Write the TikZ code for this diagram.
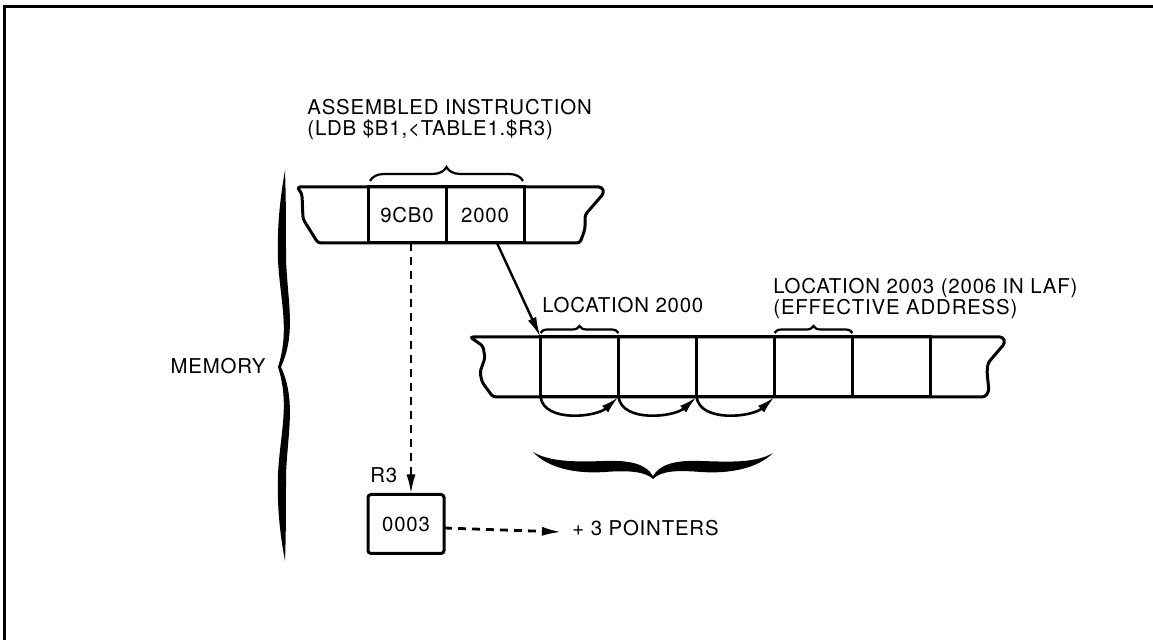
\documentclass[tikz,border=0pt]{standalone}
\usepackage{fontspec}
\setmainfont{TeX Gyre Heros}[LetterSpace=4]
\usetikzlibrary{arrows.meta,positioning,decorations.pathreplacing}

\begin{document}
\begin{tikzpicture}[x=0.5pt, y=-0.5pt,
    lbl/.style={inner sep=0pt, font=\fontsize{10.2}{10.5}\selectfont, align=left},
    cell/.style={draw, line width=1.5pt, minimum width=39pt, minimum height=#1,
                 inner sep=0pt, outer sep=0pt, font=\fontsize{10.2}{10.5}\selectfont},
    cell/.default=28pt,
    strip/.style={line width=1.5pt, line join=round, rounded corners=1.5pt},
    dasharr/.style={line width=1.4pt, dash pattern=on 4pt off 3pt, -{Latex[length=10pt,width=4.5pt]}},
    arr/.style={line width=1.2pt, -{Latex[length=10pt,width=4.5pt]}},
    hop/.style={line width=1.3pt, -{Latex[length=9pt,width=4.5pt]}},
    brc/.style={decorate, decoration={brace, amplitude=#1}, line width=1.1pt}
]
    \useasboundingbox (0,0) rectangle (1153,640);
    % frame
    \draw[line width=1.5pt] (4,640) -- (4,7) -- (1153,7);

    % upper memory strip
    \draw[strip] (297,187) -- (602,187) -- (604,193) -- (585,215) -- (585,229) -- (580,243)
        -- (318,243) -- (303,219) -- (302,194) -- cycle;
    \node[cell] (c9cb0) at (407,215) {9CB0};
    \node[cell, right=0pt of c9cb0] (c2000) {2000};
    \draw[brc=7pt] (370,181) -- (523,181);
    \node[lbl, anchor=north west] (asm) at (307,99) {ASSEMBLED INSTRUCTION\\(LDB \$B1,<TABLE1.\$R3)};

    % lower memory strip
    \draw[strip] (470,337) -- (1003,337) -- (1005,343) -- (988,363) -- (987,372) -- (989,391)
        -- (985,397) -- (493,397) -- (482,382) -- (480,372) -- (485,358) -- (483,346) -- cycle;
    \node[cell=30pt] (m1) at (579.5,367) {};
    \node[cell=30pt, right=0pt of m1] (m2) {};
    \node[cell=30pt, right=0pt of m2] (m3) {};
    \node[cell=30pt, right=0pt of m3] (m4) {};
    \node[cell=30pt, right=0pt of m4] (m5) {};
    \draw[brc=3.5pt] ([yshift=2pt]m1.north west) -- ([yshift=2pt]m1.north east);
    \draw[brc=3.5pt] ([yshift=2pt]m4.north west) -- ([yshift=2pt]m4.north east);
    \node[lbl, anchor=base west] (loc0) at (542,313) {LOCATION 2000};
    \node[lbl, anchor=north west] (loc3) at (773,278) {LOCATION 2003 (2006 IN LAF)\\(EFFECTIVE ADDRESS)};

    \foreach \a/\b in {m1/m2, m2/m3, m3/m4}
        \draw[hop] (\a.south west) .. controls +(4,26) and +(-22,20) .. (\b.south west);

    % big brace under the pointers
    \fill (533,452) .. controls (548,468) and (575,474) .. (605,472)
        .. controls (630,470) and (646,472) .. (653,479)
        .. controls (661,471) and (676,470) .. (701,472)
        .. controls (731,474) and (758,468) .. (773,453)
        .. controls (756,463) and (731,462) .. (701,461)
        .. controls (676,460) and (660,464) .. (653,476)
        .. controls (646,464) and (630,460) .. (605,461)
        .. controls (575,462) and (550,462) .. (533,452) -- cycle;

    % memory brace
    \node[lbl, anchor=east] (mem) at (266,366) {MEMORY};
    \fill (285,170) .. controls (280,200) and (277,225) .. (278,260)
        .. controls (280,300) and (290,330) .. (278,367)
        .. controls (290,404) and (280,434) .. (278,474)
        .. controls (277,509) and (280,534) .. (285,561)
        .. controls (286,534) and (286,509) .. (286,474)
        .. controls (288,430) and (296,400) .. (281,367)
        .. controls (296,334) and (288,304) .. (286,260)
        .. controls (286,225) and (286,200) .. (285,170) -- cycle;

    % index register
    \node[cell=29.5pt, rounded corners=1.5pt, minimum width=38pt] (reg) at (406,524) {0003};
    \node[lbl, anchor=base west] (r3) at (370,483) {R3};
    \node[lbl, anchor=west] (ptr) at (572,528) {+ 3 POINTERS};

    \draw[dasharr] ([xshift=2pt]c9cb0.south) -- ([xshift=2pt]c9cb0.south |- reg.north);
    \draw[dasharr] ([yshift=-2pt]reg.east) -- ([xshift=-5pt,yshift=-2pt]ptr.west);
    \draw[arr] ([xshift=6pt]c2000.south) -- (m1.north west);
\end{tikzpicture}
\end{document}
